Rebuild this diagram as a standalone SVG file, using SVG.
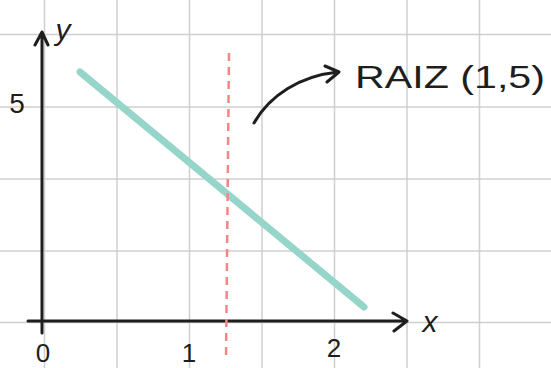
<svg xmlns="http://www.w3.org/2000/svg" width="551" height="368" viewBox="0 0 551 368">
  <style>
    .grid { stroke: #cfcfcf; stroke-width: 1.5; fill: none; }
    .ink { stroke: #1e1e1e; stroke-width: 3; fill: none; stroke-linecap: round; stroke-linejoin: round; }
    .lbl { font-family: "Liberation Sans", "DejaVu Sans", sans-serif; fill: #1e1e1e; text-anchor: middle; }
  </style>
  <rect width="551" height="368" fill="#ffffff"/>
  <g id="grid">
    <path class="grid" d="M44.5 0V368M117 0V368M189.5 0V368M262 0V368M334.5 0V368M407 0V368M479.5 0V368M0 34.5H551M0 107H551M0 179H551M0 251H551M0 322.5H551"/>
  </g>
  <g id="axes">
    <g id="y-axis">
      <path class="ink" d="M42 333V32M35 45L42 32L48 45" stroke-width="4"/>
      <text class="lbl" x="63" y="40" font-size="30" font-style="italic">y</text>
    </g>
    <g id="x-axis">
      <path class="ink" d="M28 321H407M393 313L407 321L394 331"/>
      <text class="lbl" x="430" y="332" font-size="30" font-style="italic">x</text>
    </g>
    <g id="ticks">
      <text class="lbl" x="17" y="113" font-size="28">5</text>
      <text class="lbl" x="43" y="362" font-size="26">0</text>
      <text class="lbl" x="189" y="362" font-size="26">1</text>
      <text class="lbl" x="334" y="357" font-size="26">2</text>
    </g>
  </g>
  <g id="line">
    <path d="M80 72L364 307" stroke="#96d5c9" stroke-width="7" stroke-linecap="round" fill="none"/>
  </g>
  <g id="root-line">
    <path d="M229 53L226 360" stroke="#f28585" stroke-width="2.5" stroke-dasharray="8 6" fill="none"/>
  </g>
  <g id="connectors">
    <path class="ink" d="M254 123C270 95 300 76 338 72M325 66L339 72L327 82"/>
  </g>
  <g id="label">
    <text class="lbl" x="450" y="88" font-size="32" textLength="190" lengthAdjust="spacingAndGlyphs">RAIZ (1,5)</text>
  </g>
</svg>
